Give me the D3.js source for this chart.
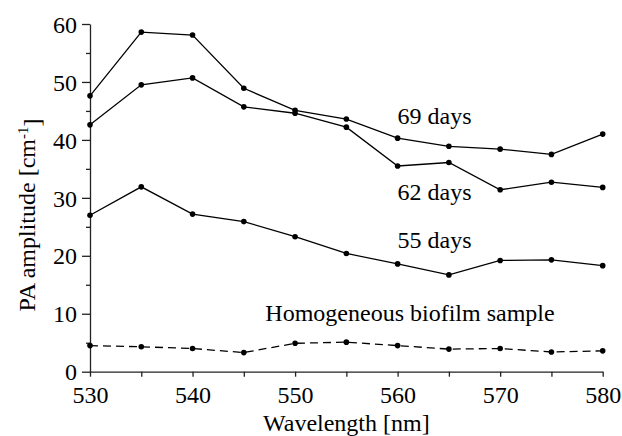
<!DOCTYPE html>
<html>
<head>
<meta charset="utf-8">
<script src="https://cdn.jsdelivr.net/npm/d3@7"></script>
<style>
  body { margin: 0; background: #fff; }
  svg { display: block; }
  text { font-family: "Liberation Serif", "Times New Roman", serif; fill: #000; }
</style>
</head>
<body>
<svg id="chart" width="622" height="436"></svg>
<script>
var wavelengths = [530, 535, 540, 545, 550, 555, 560, 565, 570, 575, 580];
var days69 = [47.6, 58.6, 58.1, 48.9, 45.1, 43.6, 40.3, 38.9, 38.4, 37.5, 41.0];
var days62 = [42.6, 49.5, 50.7, 45.7, 44.6, 42.2, 35.5, 36.1, 31.4, 32.7, 31.8];
var days55 = [27.0, 31.9, 27.2, 25.9, 23.3, 20.4, 18.6, 16.7, 19.2, 19.3, 18.3];
var homogeneous = [4.5, 4.3, 4.0, 3.3, 4.9, 5.1, 4.5, 3.9, 4.0, 3.4, 3.6];
var xTicks = [530, 540, 550, 560, 570, 580];
var yTicks = [0, 10, 20, 30, 40, 50, 60];
var labelText = ["69 days", "62 days", "55 days", "Homogeneous biofilm sample"];
var labelX = [560, 560, 560, 547.1];
var labelY = [42.7, 29.6, 21.3, 8.75];

var svg = d3.select("svg#chart"),
    width = +svg.attr("width"),
    height = +svg.attr("height"),
    margin = { left: 90, right: 19.3, top: 24, bottom: 64.3 },
    g = svg.append("g").attr("transform", "translate(" + margin.left + "," + margin.top + ")"),
    w = width - margin.left - margin.right,
    h = height - margin.top - margin.bottom;

var x = d3.scaleLinear().domain([530, 580]).range([0, w]);
var y = d3.scaleLinear().domain([0, 60]).range([h, 0]);

// minor ticks first, then major axes on top
g.append("g")
    .attr("transform", "translate(0," + h + ")")
    .call(d3.axisBottom(x).tickValues(d3.range(535, 580, 10)).tickSize(5).tickFormat(""))
    .call(a => a.select(".domain").remove());
g.append("g")
    .call(d3.axisLeft(y).tickValues(d3.range(5, 60, 10)).tickSize(4).tickFormat(""))
    .call(a => a.select(".domain").remove());

var xAxis = g.append("g")
    .attr("transform", "translate(0," + h + ")")
    .call(d3.axisBottom(x).tickValues(xTicks).tickSize(5).tickPadding(9).tickSizeOuter(0));
xAxis.selectAll("text").style("font-size", "24px").attr("dy", "0.71em");

var yAxis = g.append("g")
    .call(d3.axisLeft(y).tickValues(yTicks).tickSize(8).tickPadding(5).tickSizeOuter(0));
yAxis.selectAll("text").style("font-size", "24px").attr("dy", "0.34em");

g.selectAll(".domain, .tick line").attr("stroke", "#222").attr("stroke-width", 1.3);

var series = [
    { values: days69, dash: null },
    { values: days62, dash: null },
    { values: days55, dash: null },
    { values: homogeneous, dash: "8,5" }
];

var line = d3.line()
    .x((d, i) => x(wavelengths[i]))
    .y(d => y(d));

series.forEach(function (s) {
    g.append("path")
        .datum(s.values)
        .attr("fill", "none")
        .attr("stroke", "#000")
        .attr("stroke-width", 1.3)
        .attr("stroke-dasharray", s.dash)
        .attr("d", line);
    g.append("g")
        .selectAll("circle")
        .data(s.values)
        .enter()
        .append("circle")
        .attr("cx", (d, i) => x(wavelengths[i]))
        .attr("cy", d => y(d))
        .attr("r", 2.8)
        .attr("fill", "#000");
});

g.selectAll(".series-label")
    .data(labelText)
    .enter()
    .append("text")
    .attr("class", "series-label")
    .attr("x", (d, i) => x(labelX[i]))
    .attr("y", (d, i) => y(labelY[i]))
    .style("font-size", "24px")
    .text(d => d);

svg.append("text")
    .attr("x", margin.left + w / 2)
    .attr("y", 431)
    .attr("text-anchor", "middle")
    .style("font-size", "24px")
    .text("Wavelength [nm]");

var yTitle = svg.append("text")
    .attr("transform", "translate(35,215) rotate(-90)")
    .attr("text-anchor", "middle")
    .style("font-size", "24px");
yTitle.append("tspan").text("PA amplitude [cm");
yTitle.append("tspan").attr("dy", "-0.5em").style("font-size", "15px").text("-1");
yTitle.append("tspan").attr("dy", "0.5em").text("]");
</script>
</body>
</html>
